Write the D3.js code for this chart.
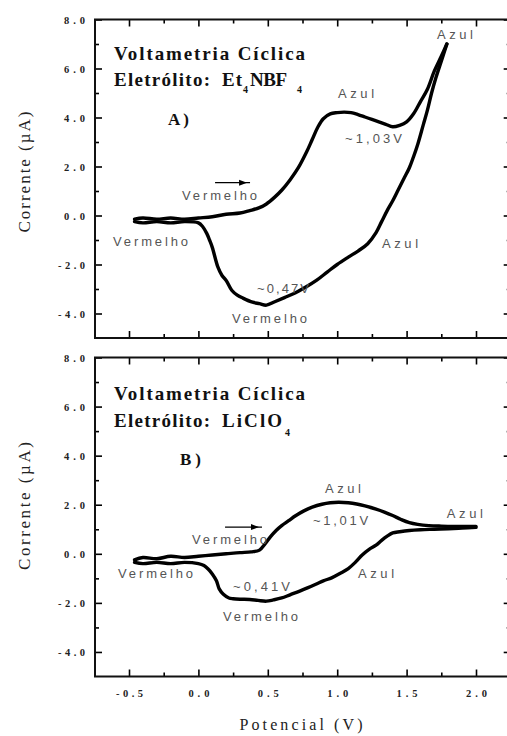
<!DOCTYPE html>
<html>
<head>
<meta charset="utf-8">
<script src="https://cdn.jsdelivr.net/npm/d3@7"></script>
<style>
  body { margin: 0; background: #fff; }
  svg { display: block; }
</style>
</head>
<body>
<svg id="chart" width="507" height="736"></svg>
<script>
// ---- Axis ticks ----
const potentialTicks = [-0.5, 0.0, 0.5, 1.0, 1.5, 2.0];
const potentialTickLabels = ["-0.5", "0.0", "0.5", "1.0", "1.5", "2.0"];
const potentialMinorTicks = [-0.25, 0.25, 0.75, 1.25, 1.75];
const currentTicks = [-4, -2, 0, 2, 4, 6, 8];
const currentTickLabels = ["-4.0", "-2.0", "0.0", "2.0", "4.0", "6.0", "8.0"];
const currentMinorTicks = [-3, -1, 1, 3, 5, 7];

// ---- A) Et4NBF4 : anodic (forward) scan, V and µA ----
const aForwardV = [-0.46, -0.40, -0.30, -0.20, -0.10, 0.00, 0.10, 0.20, 0.30, 0.37, 0.44, 0.49, 0.55, 0.60, 0.66, 0.72, 0.78, 0.82, 0.86, 0.90, 0.95, 1.00, 1.05, 1.10, 1.15, 1.20, 1.25, 1.30, 1.35, 1.40, 1.45, 1.50, 1.55, 1.60, 1.65, 1.70, 1.75, 1.79];
const aForwardI = [-0.15, -0.10, -0.15, -0.10, -0.15, -0.10, -0.05, 0.05, 0.10, 0.20, 0.32, 0.47, 0.75, 1.03, 1.45, 1.95, 2.60, 3.10, 3.60, 3.95, 4.15, 4.20, 4.22, 4.20, 4.12, 4.02, 3.92, 3.82, 3.72, 3.62, 3.68, 3.82, 4.15, 4.65, 5.15, 5.90, 6.50, 7.00];
// ---- A) Et4NBF4 : cathodic (reverse) scan ----
const aReverseV = [1.79, 1.75, 1.71, 1.68, 1.65, 1.62, 1.58, 1.55, 1.52, 1.48, 1.44, 1.40, 1.36, 1.32, 1.28, 1.22, 1.15, 1.08, 1.00, 0.93, 0.85, 0.78, 0.70, 0.62, 0.55, 0.49, 0.44, 0.39, 0.32, 0.28, 0.24, 0.20, 0.17, 0.14, 0.10, 0.08, 0.06, 0.03, 0.00, -0.10, -0.20, -0.30, -0.40, -0.46];
const aReverseI = [7.00, 6.30, 5.60, 5.00, 4.30, 3.70, 2.90, 2.40, 1.95, 1.50, 1.05, 0.60, 0.20, -0.25, -0.70, -1.15, -1.45, -1.70, -2.00, -2.30, -2.65, -2.90, -3.15, -3.35, -3.52, -3.66, -3.60, -3.54, -3.37, -3.25, -3.05, -2.65, -2.45, -2.10, -1.30, -1.00, -0.73, -0.45, -0.30, -0.25, -0.30, -0.25, -0.30, -0.25];

// ---- B) LiClO4 : anodic (forward) scan ----
const bForwardV = [-0.46, -0.40, -0.30, -0.20, -0.10, 0.00, 0.10, 0.20, 0.30, 0.38, 0.44, 0.48, 0.52, 0.56, 0.60, 0.65, 0.70, 0.76, 0.82, 0.89, 0.95, 1.01, 1.08, 1.14, 1.20, 1.28, 1.34, 1.40, 1.46, 1.52, 1.58, 1.66, 1.75, 1.85, 1.95, 2.00];
const bForwardI = [-0.25, -0.15, -0.20, -0.10, -0.15, -0.10, -0.05, 0.00, 0.05, 0.08, 0.15, 0.40, 0.70, 0.95, 1.15, 1.35, 1.55, 1.75, 1.90, 2.02, 2.08, 2.10, 2.08, 2.03, 1.95, 1.82, 1.70, 1.56, 1.40, 1.27, 1.20, 1.15, 1.13, 1.12, 1.12, 1.12];
// ---- B) LiClO4 : cathodic (reverse) scan ----
const bReverseV = [2.00, 1.90, 1.80, 1.70, 1.60, 1.52, 1.45, 1.40, 1.36, 1.32, 1.28, 1.23, 1.18, 1.13, 1.08, 1.02, 0.96, 0.90, 0.85, 0.79, 0.73, 0.66, 0.60, 0.54, 0.49, 0.43, 0.37, 0.30, 0.25, 0.22, 0.18, 0.15, 0.13, 0.10, 0.07, 0.04, 0.00, -0.10, -0.20, -0.30, -0.40, -0.46];
const bReverseI = [1.08, 1.05, 1.02, 1.00, 0.98, 0.95, 0.90, 0.85, 0.72, 0.55, 0.35, 0.18, -0.05, -0.35, -0.60, -0.80, -0.98, -1.10, -1.23, -1.38, -1.52, -1.67, -1.80, -1.88, -1.93, -1.90, -1.86, -1.85, -1.83, -1.80, -1.65, -1.43, -1.10, -0.82, -0.62, -0.48, -0.40, -0.35, -0.40, -0.35, -0.40, -0.35];

// ---- Colour-change annotations (label text, anchor potential, anchor current) ----
const aNoteText = ["Azul", "Azul", "~1,03V", "Vermelho", "Vermelho", "~0,47V", "Vermelho", "Azul"];
const aNoteV    = [1.719, 1.006, 1.056, -0.118, -0.615, 0.422, 0.242, 1.323];
const aNoteI    = [7.22, 4.81, 2.97, 0.64, -1.24, -3.16, -4.39, -1.32];
const bNoteText = ["Azul", "~1,01V", "Azul", "Vermelho", "Vermelho", "~0,41V", "Vermelho", "Azul"];
const bNoteV    = [0.912, 0.826, 1.790, -0.046, -0.579, 0.249, 0.177, 1.150];
const bNoteI    = [2.48, 1.17, 1.46, 0.40, -0.99, -1.52, -2.74, -0.99];
// scan-direction arrows: [start V, end V, current]
const aArrow = [0.120, 0.372, 1.34];
const bArrow = [0.192, 0.458, 1.09];

// ---- Layout ----
const W = 507, H = 736;
const left = 95, right = 510.7;
const panels = [
  { top: 19.5, bottom: 338, fv: aForwardV, fi: aForwardI, rv: aReverseV, ri: aReverseI,
    noteText: aNoteText, noteV: aNoteV, noteI: aNoteI, arrow: aArrow,
    title1: "Voltametria Cíclica", electrolyte: ["Eletrólito: ", "Et", "4", "NBF", "4"],
    tag: "A)", tagX: 168, tagY: 125, t1y: 60, t2y: 86,
    ylabelMid: 172, ylabelLen: 121, xLabels: false },
  { top: 357.5, bottom: 676.5, fv: bForwardV, fi: bForwardI, rv: bReverseV, ri: bReverseI,
    noteText: bNoteText, noteV: bNoteV, noteI: bNoteI, arrow: bArrow,
    title1: "Voltametria Cíclica", electrolyte: ["Eletrólito: ", "LiClO", "4"],
    tag: "B)", tagX: 180, tagY: 465, t1y: 400, t2y: 427,
    ylabelMid: 506, ylabelLen: 128, xLabels: true }
];

const svg = d3.select("#chart");
svg.append("rect").attr("width", W).attr("height", H).attr("fill", "#fff");

const x = d3.scaleLinear().domain([-0.745, 2.25]).range([left, right]);
const serif = "'Liberation Serif', 'Times New Roman', serif";
const sans = "'Liberation Sans', Arial, sans-serif";
const labelLen = s => (s.length >= 4 ? 27 : 21);

panels.forEach(p => {
  const y = d3.scaleLinear().domain([-5, 8]).range([p.bottom, p.top]);
  const g = svg.append("g");

  // left axis: inward ticks with bold labels
  const yAxisMajor = d3.axisLeft(y).tickValues(currentTicks)
    .tickSizeInner(-7).tickSizeOuter(0).tickPadding(10)
    .tickFormat((d, i) => currentTickLabels[i]);
  const yl = g.append("g").attr("transform", `translate(${left},0)`).call(yAxisMajor);
  yl.selectAll("text")
    .attr("font-family", serif).attr("font-weight", "bold").attr("font-size", 10.5)
    .attr("fill", "#222").attr("dy", "0.36em")
    .attr("textLength", d => labelLen(currentTickLabels[currentTicks.indexOf(d)]))
    .attr("lengthAdjust", "spacing");
  g.append("g").attr("transform", `translate(${left},0)`)
    .call(d3.axisLeft(y).tickValues(currentMinorTicks).tickSizeInner(-4).tickSizeOuter(0).tickFormat(""));

  // right axis: inward ticks only
  g.append("g").attr("transform", `translate(${right},0)`)
    .call(d3.axisRight(y).tickValues(currentTicks).tickSizeInner(-7).tickSizeOuter(0).tickFormat(""));
  g.append("g").attr("transform", `translate(${right},0)`)
    .call(d3.axisRight(y).tickValues(currentMinorTicks).tickSizeInner(-4).tickSizeOuter(0).tickFormat(""));

  // top axis: inward ticks only
  g.append("g").attr("transform", `translate(0,${p.top})`)
    .call(d3.axisTop(x).tickValues(potentialTicks).tickSizeInner(-7).tickSizeOuter(0).tickFormat(""));
  g.append("g").attr("transform", `translate(0,${p.top})`)
    .call(d3.axisTop(x).tickValues(potentialMinorTicks).tickSizeInner(-4).tickSizeOuter(0).tickFormat(""));

  // bottom axis: inward ticks, labels on the lower panel only
  const xb = g.append("g").attr("transform", `translate(0,${p.bottom})`)
    .call(d3.axisBottom(x).tickValues(potentialTicks).tickSizeInner(-7).tickSizeOuter(0).tickPadding(13)
      .tickFormat((d, i) => p.xLabels ? potentialTickLabels[i] : ""));
  xb.selectAll("text")
    .attr("font-family", serif).attr("font-weight", "bold").attr("font-size", 10.5).attr("fill", "#222")
    .attr("textLength", d => p.xLabels ? labelLen(potentialTickLabels[potentialTicks.indexOf(d)]) : 0)
    .attr("lengthAdjust", "spacing");
  g.append("g").attr("transform", `translate(0,${p.bottom})`)
    .call(d3.axisBottom(x).tickValues(potentialMinorTicks).tickSizeInner(-4).tickSizeOuter(0).tickFormat(""));

  g.selectAll(".domain").remove();
  g.selectAll(".tick line").attr("stroke", "#000").attr("stroke-width", 1.6);

  // frame
  g.append("rect")
    .attr("x", left).attr("y", p.top)
    .attr("width", right - left).attr("height", p.bottom - p.top)
    .attr("fill", "none").attr("stroke", "#111").attr("stroke-width", 2);

  // voltammogram branches
  const line = d3.line().x(d => x(d[0])).y(d => y(d[1])).curve(d3.curveCatmullRom.alpha(0.5));
  const fwd = p.fv.map((v, i) => [v, p.fi[i]]);
  const rev = p.rv.map((v, i) => [v, p.ri[i]]);
  [fwd, rev].forEach(branch => {
    g.append("path").datum(branch).attr("d", line)
      .attr("fill", "none").attr("stroke", "#000")
      .attr("stroke-width", 3.4).attr("stroke-linejoin", "round").attr("stroke-linecap", "round");
  });

  // scan-direction arrow
  const [a0, a1, ai] = p.arrow;
  g.append("line")
    .attr("x1", x(a0)).attr("x2", x(a1)).attr("y1", y(ai)).attr("y2", y(ai))
    .attr("stroke", "#000").attr("stroke-width", 1.3);
  const tip = x(a1), ay = y(ai);
  g.append("path")
    .attr("d", `M${tip - 3},${ay} L${tip - 11},${ay - 3} L${tip - 11},${ay + 3} Z`)
    .attr("fill", "#000");

  // colour annotations
  const noteLen = { "Azul": 36, "Vermelho": 75, "~1,03V": 57, "~0,47V": 52, "~1,01V": 55, "~0,41V": 57 };
  p.noteText.forEach((t, i) => {
    g.append("text")
      .attr("x", x(p.noteV[i])).attr("y", y(p.noteI[i]))
      .attr("font-family", sans).attr("font-size", 13).attr("fill", "#555")
      .attr("textLength", noteLen[t]).attr("lengthAdjust", "spacing")
      .text(t);
  });

  // panel titles
  g.append("text")
    .attr("x", 114).attr("y", p.t1y)
    .attr("font-family", serif).attr("font-weight", "bold").attr("font-size", 19).attr("fill", "#111")
    .attr("textLength", 191).attr("lengthAdjust", "spacing")
    .text(p.title1);
  const t2 = g.append("text")
    .attr("x", 114).attr("y", p.t2y)
    .attr("font-family", serif).attr("font-weight", "bold").attr("font-size", 19).attr("fill", "#111");
  if (p.electrolyte.length === 5) {
    t2.append("tspan").attr("x", 114).attr("textLength", 102).attr("lengthAdjust", "spacing").text(p.electrolyte[0]);
    t2.append("tspan").attr("x", 222).attr("textLength", 20).attr("lengthAdjust", "spacing").text(p.electrolyte[1]);
    t2.append("tspan").attr("x", 243).attr("dy", 7).attr("font-size", 10).text(p.electrolyte[2]);
    t2.append("tspan").attr("x", 250).attr("dy", -7).attr("textLength", 37).attr("lengthAdjust", "spacing").text(p.electrolyte[3]);
    t2.append("tspan").attr("x", 297).attr("dy", 7).attr("font-size", 10).text(p.electrolyte[4]);
  } else {
    t2.append("tspan").attr("x", 114).attr("textLength", 102).attr("lengthAdjust", "spacing").text(p.electrolyte[0]);
    t2.append("tspan").attr("x", 222).attr("textLength", 60).attr("lengthAdjust", "spacing").text(p.electrolyte[1]);
    t2.append("tspan").attr("x", 285).attr("dy", 9).attr("font-size", 10).text(p.electrolyte[2]);
  }
  g.append("text")
    .attr("x", p.tagX).attr("y", p.tagY)
    .attr("font-family", serif).attr("font-weight", "bold").attr("font-size", 17).attr("fill", "#111")
    .attr("textLength", 21).attr("lengthAdjust", "spacing")
    .text(p.tag);

  // y axis title
  g.append("text")
    .attr("transform", `translate(30,${p.ylabelMid}) rotate(-90)`)
    .attr("text-anchor", "middle")
    .attr("font-family", serif).attr("font-size", 17).attr("fill", "#222")
    .attr("textLength", p.ylabelLen).attr("lengthAdjust", "spacing")
    .text("Corrente (µA)");
});

// x axis title
svg.append("text")
  .attr("x", 301).attr("y", 730)
  .attr("text-anchor", "middle")
  .attr("font-family", serif).attr("font-size", 16).attr("fill", "#222")
  .attr("textLength", 123).attr("lengthAdjust", "spacing")
  .text("Potencial (V)");
</script>
</body>
</html>
